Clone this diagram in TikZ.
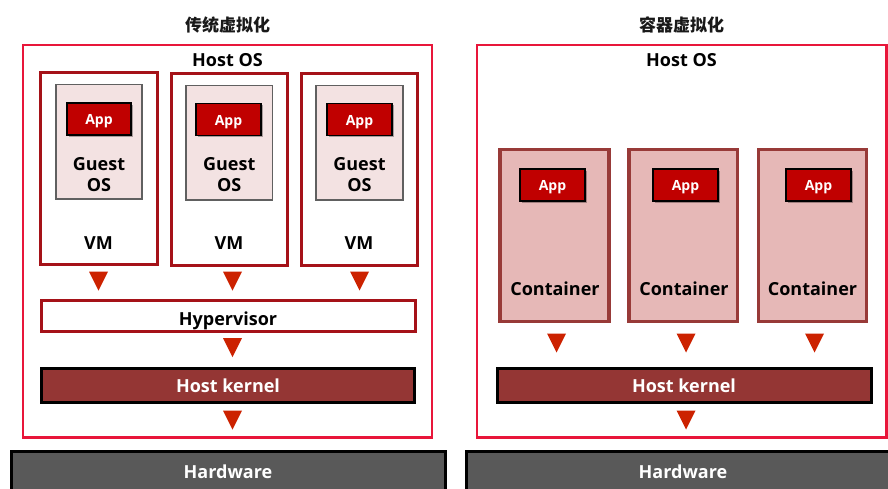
\documentclass[tikz,border=0pt]{standalone}
\usepackage{fontspec}
\setmainfont{Open Sans}
\newfontfamily\cjkfont{Noto Sans CJK SC}
\usetikzlibrary{shadows}
\definecolor{hostred}{RGB}{232,22,58}
\definecolor{vmred}{RGB}{165,18,24}
\definecolor{guestfill}{RGB}{243,226,226}
\definecolor{guestline}{RGB}{96,96,96}
\definecolor{appred}{RGB}{192,0,0}
\definecolor{tricol}{RGB}{204,34,0}
\definecolor{kernelfill}{RGB}{148,54,52}
\definecolor{hwfill}{RGB}{89,89,89}
\definecolor{contfill}{RGB}{230,184,183}
\definecolor{contline}{RGB}{152,58,56}
\newcommand\downtri[3]{\coordinate (#1) at (#2,#3);
  \fill[tricol] (#1) ++(-9.5,-9.5) -- ++(19,0) -- ++(-9.5,19) -- cycle;}
\begin{document}
\begin{tikzpicture}[x=1pt,y=-1pt,
  box/.style={rectangle,inner sep=0pt,outer sep=0pt},
  hostbox/.style={box,draw=hostred,line width=2.6pt,fill=white},
  vmbox/.style={box,draw=vmred,line width=3pt,fill=white},
  guestbox/.style={box,draw=guestline,line width=1.5pt,fill=guestfill},
  appbox/.style={box,draw=black,line width=1.4pt,fill=appred,
    drop shadow={shadow xshift=1.5pt,shadow yshift=-1.5pt,opacity=0.3,fill=black}},
  hypbox/.style={box,draw=vmred,line width=3pt,fill=white},
  kernbox/.style={box,draw=black,line width=3pt,fill=kernelfill},
  hwbox/.style={box,draw=black,line width=3pt,fill=hwfill},
  contbox/.style={box,draw=contline,line width=3.5pt,fill=contfill},
  lbl/.style={inner sep=0pt,anchor=base,font=\fontsize{18}{21}\selectfont\bfseries,align=center},
  wlbl/.style={lbl,text=white},
  applbl/.style={inner sep=0pt,anchor=base,font=\fontsize{14}{16}\selectfont\bfseries,text=white},
  title/.style={inner sep=0pt,font=\fontsize{17}{20}\selectfont\cjkfont\bfseries,text=black!90}
]
\useasboundingbox[fill=white] (0,0) rectangle (888,488);

% ---------- left: traditional virtualization ----------
\node[title] (ltitle) at (227.5,25) {传统虚拟化};
\node[hostbox,minimum width=409,minimum height=392.5] (lhost) at (227.5,241.25) {};
\node[lbl] (lhostlbl) at (227.5,66) {Host OS};

\node[vmbox,minimum width=117,minimum height=192] (vm1) at (98.5,168) {};
\node[vmbox,minimum width=116,minimum height=192] (vm2) at (229,169) {};
\node[vmbox,minimum width=116,minimum height=192] (vm3) at (359,169) {};

\node[guestbox,minimum width=86,minimum height=114.5] (g1) at (99,141.75) {};
\node[guestbox,minimum width=86.5,minimum height=114.5] (g2) at (229.25,142.75) {};
\node[guestbox,minimum width=87,minimum height=114.5] (g3) at (359.5,142.75) {};

\node[appbox,minimum width=64,minimum height=32] (a1) at (99,119) {};
\node[appbox,minimum width=65,minimum height=32] (a2) at (228.5,119.5) {};
\node[appbox,minimum width=65,minimum height=32] (a3) at (359.5,119.5) {};
\node[applbl] (a1l) at (99,124.5) {App};
\node[applbl] (a2l) at (228.5,125) {App};
\node[applbl] (a3l) at (359.5,125) {App};

\node[lbl] (g1l) at (99,170) {Guest};
\node[lbl] (g1m) at (99,191) {OS};
\node[lbl] (g2l) at (229.25,170.5) {Guest};
\node[lbl] (g2m) at (229.25,191.5) {OS};
\node[lbl] (g3l) at (359.5,170.5) {Guest};
\node[lbl] (g3m) at (359.5,191.5) {OS};

\node[lbl] (vm1l) at (98.5,249) {VM};
\node[lbl] (vm2l) at (229,249.5) {VM};
\node[lbl] (vm3l) at (359,249.5) {VM};

\downtri{lt1}{98.5}{281}
\downtri{lt2}{232.5}{281}
\downtri{lt3}{359.5}{281}

\node[hypbox,minimum width=374,minimum height=31] (hyp) at (228,315.5) {};
\node[lbl] (hypl) at (228,325) {Hypervisor};

\downtri{lt4}{232.5}{347.5}

\node[kernbox,minimum width=373,minimum height=34] (lkern) at (228,385.5) {};
\node[wlbl] (lkernl) at (228,392.5) {Host kernel};

\downtri{lt5}{232.5}{420}

\node[hwbox,minimum width=434,minimum height=48.5] (lhw) at (228,475.75) {};
\node[wlbl] (lhwl) at (228,478.3) {Hardware};

% ---------- right: container virtualization ----------
\node[title] (rtitle) at (681.5,25) {容器虚拟化};
\node[hostbox,minimum width=409.5,minimum height=392.5] (rhost) at (681.75,241.25) {};
\node[lbl] (rhostlbl) at (681.5,66) {Host OS};

\node[contbox,minimum width=109,minimum height=172] (c1) at (554.5,235.5) {};
\node[contbox,minimum width=108.5,minimum height=172] (c2) at (683.25,235.5) {};
\node[contbox,minimum width=108,minimum height=172] (c3) at (812.5,235.5) {};

\node[appbox,minimum width=65,minimum height=32] (ra1) at (552.5,185) {};
\node[appbox,minimum width=65,minimum height=32] (ra2) at (685.5,185) {};
\node[appbox,minimum width=65,minimum height=32] (ra3) at (818.5,185) {};
\node[applbl] (ra1l) at (552.5,190.5) {App};
\node[applbl] (ra2l) at (685.5,190.5) {App};
\node[applbl] (ra3l) at (818.5,190.5) {App};

\node[lbl] (c1l) at (555,295) {Container};
\node[lbl] (c2l) at (684,295) {Container};
\node[lbl] (c3l) at (812.5,295) {Container};

\downtri{rt1}{556.5}{343}
\downtri{rt2}{686}{343}
\downtri{rt3}{814.5}{343}

\node[kernbox,minimum width=374,minimum height=34] (rkern) at (684,385.5) {};
\node[wlbl] (rkernl) at (684,392.5) {Host kernel};

\downtri{rt4}{686}{420}

\node[hwbox,minimum width=434,minimum height=48.5] (rhw) at (683,475.75) {};
\node[wlbl] (rhwl) at (683,478.3) {Hardware};
\end{tikzpicture}
\end{document}
